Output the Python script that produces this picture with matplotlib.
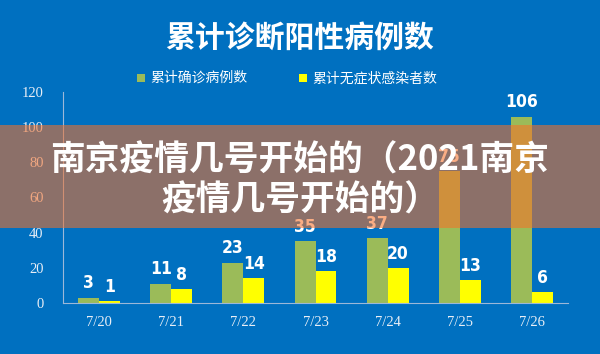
import matplotlib
matplotlib.use("Agg")
import matplotlib.pyplot as plt
import numpy as np
from matplotlib.patches import Rectangle

categories = ["7/20", "7/21", "7/22", "7/23", "7/24", "7/25", "7/26"]
confirmed = [3, 11, 23, 35, 37, 75, 106]
asymptomatic = [1, 8, 14, 18, 20, 13, 6]
series_names = ["累计确诊病例数", "累计无症状感染者数"]
yticks = [0, 20, 40, 60, 80, 100, 120]
title = "累计诊断阳性病例数"
banner = "南京疫情几号开始的（2021南京\n疫情几号开始的）"

BG = "#0070C0"
GREEN = "#9BBB59"
YELLOW = "#FFFF00"
CJK = ["Noto Sans CJK SC", "DejaVu Sans"]

W, H = 600, 354
fig = plt.figure(figsize=(6, 3.54), dpi=100, facecolor=BG)
ax = fig.add_axes([63 / W, 1 - 303 / H, (568 - 63) / W, (303 - 92) / H])
ax.set_facecolor(BG)

x = np.arange(len(categories))
bw = 0.29
ax.bar(x - bw / 2, confirmed, bw, color=GREEN, zorder=2)
ax.bar(x + bw / 2, asymptomatic, bw, color=YELLOW, zorder=2)

lab_kw = dict(ha="center", va="bottom", color="white", fontsize=12.5,
              fontweight="bold", fontstretch="condensed", family="DejaVu Sans")
for xi, v in zip(x, confirmed):
    t = ax.text(xi - bw / 2, v + 3, str(v), **lab_kw)
for xi, v in zip(x, asymptomatic):
    ax.text(xi + bw / 2, v + 3, str(v), **lab_kw)

ax.set_xlim(-0.5, len(categories) - 0.5)
ax.set_ylim(0, 120)
ax.set_yticks(yticks)
ax.set_xticks(x)
ax.set_xticklabels(categories)
for lab in ax.get_xticklabels() + ax.get_yticklabels():
    lab.set_family("Liberation Serif")
    lab.set_color("#E8EEF6")
    lab.set_fontsize(10.5)
ax.tick_params(length=0)
ax.tick_params(axis="x", pad=9)
ax.tick_params(axis="y", pad=14)
for s in ["top", "right"]:
    ax.spines[s].set_visible(False)
for s in ["left", "bottom"]:
    ax.spines[s].set_color("#9DB8D8")
    ax.spines[s].set_linewidth(0.8)

fig.text(0.5, 1 - 38 / H, title, ha="center", va="center", color="white",
         fontsize=21.5, fontweight="bold", family=CJK)

# legend
ly = 1 - 78 / H
fig.patches.append(Rectangle((137 / W, ly - 4 / H), 8 / W, 8 / H, transform=fig.transFigure,
                             facecolor=GREEN, edgecolor="none"))
fig.text(150 / W, ly, series_names[0], ha="left", va="center", color="white",
         fontsize=10, family=CJK)
fig.patches.append(Rectangle((299 / W, ly - 4 / H), 8 / W, 8 / H, transform=fig.transFigure,
                             facecolor=YELLOW, edgecolor="none"))
fig.text(312 / W, ly, series_names[1], ha="left", va="center", color="white",
         fontsize=10, family=CJK)

# banner overlay
fig.patches.append(Rectangle((0, 1 - 228 / H), 1, (228 - 125) / H, transform=fig.transFigure,
                             facecolor=(247 / 255, 112 / 255, 39 / 255), alpha=0.57,
                             edgecolor="none", zorder=10))
fig.text(0.5, 1 - 180 / H, banner, ha="center", va="center", color="white",
         fontsize=25, fontweight="bold", family=CJK, linespacing=1.2, zorder=11)

fig.savefig("out.png", dpi=100, facecolor=BG)
